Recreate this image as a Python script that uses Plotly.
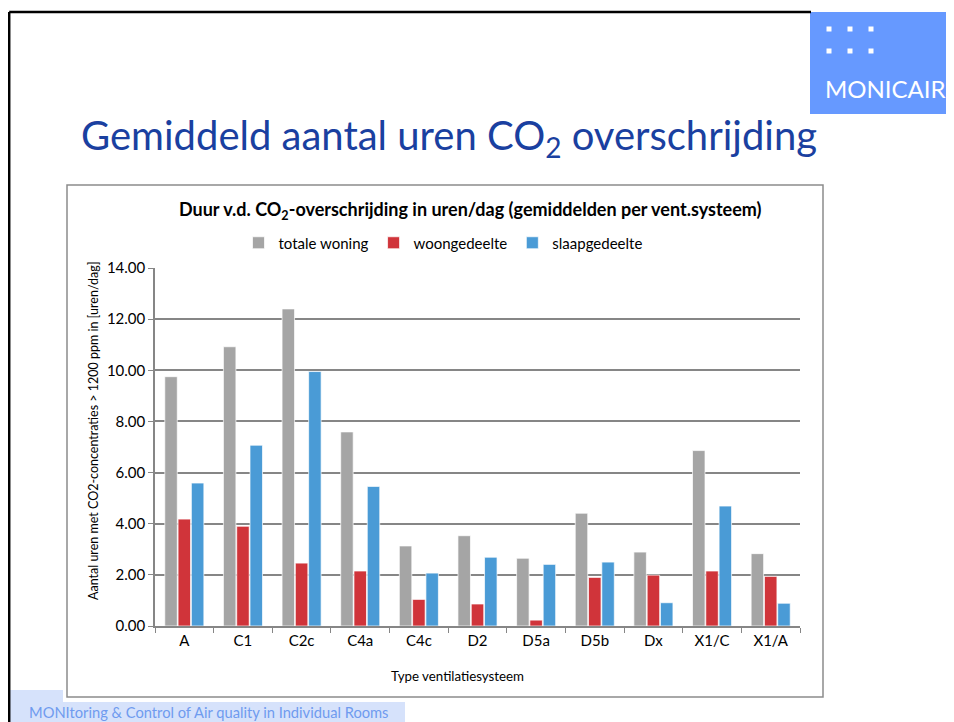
import plotly.graph_objects as go

# The page body has an 8px margin, so the figure is drawn 8px in from the
# top-left corner; coordinates below are given in reference-picture pixels.
OFF = 8
W, H = 954 - OFF, 722 - OFF

categories = ["A", "C1", "C2c", "C4a", "C4c", "D2", "D5a", "D5b", "Dx", "X1/C", "X1/A"]
totale_woning = [9.75, 10.92, 12.40, 7.59, 3.13, 3.53, 2.65, 4.41, 2.89, 6.86, 2.83]
woongedeelte = [4.18, 3.90, 2.46, 2.15, 1.04, 0.86, 0.23, 1.90, 1.99, 2.15, 1.94]
slaapgedeelte = [5.59, 7.07, 9.95, 5.46, 2.07, 2.69, 2.41, 2.50, 0.91, 4.69, 0.89]
y_ticks = [0, 2, 4, 6, 8, 10, 12, 14]
y_ticklabels = ["0.00", "2.00", "4.00", "6.00", "8.00", "10.00", "12.00", "14.00"]

FONT = "Lato"


def px(x):
    return (x - OFF) / W


def py(y):
    return 1 - (y - OFF) / H


fig = go.Figure()
series = [
    ("totale woning", totale_woning, "#A5A5A5"),
    ("woongedeelte", woongedeelte, "#D0343A"),
    ("slaapgedeelte", slaapgedeelte, "#4A9BD6"),
]
for name, vals, col in series:
    fig.add_trace(go.Bar(
        x=categories, y=vals, name=name,
        marker=dict(color=col, line=dict(color="rgba(255,255,255,0.7)", width=1)),
    ))

shapes = []
# slide border
shapes.append(dict(type="line", xref="paper", yref="paper", x0=px(9.2), x1=px(811), y0=py(12), y1=py(12),
                   line=dict(color="black", width=2.5)))
shapes.append(dict(type="line", xref="paper", yref="paper", x0=px(9.2), x1=px(9.2), y0=py(12), y1=py(722),
                   line=dict(color="black", width=2.5)))
# logo box
shapes.append(dict(type="rect", xref="paper", yref="paper", x0=px(810), x1=px(954), y0=py(114), y1=py(12),
                   fillcolor="#6699FF", line=dict(width=0), layer="below"))
for dx in [829, 850, 871]:
    for dy in [29, 51]:
        shapes.append(dict(type="rect", xref="paper", yref="paper", x0=px(dx - 2.5), x1=px(dx + 2.5),
                           y0=py(dy + 2.5), y1=py(dy - 2.5), fillcolor="white", line=dict(width=0)))
# chart box
shapes.append(dict(type="rect", xref="paper", yref="paper", x0=px(67), x1=px(823), y0=py(697), y1=py(185),
                   fillcolor="rgba(0,0,0,0)", line=dict(color="#8C8C8C", width=1.5), layer="below"))
# footer background
shapes.append(dict(type="rect", xref="paper", yref="paper", x0=px(10), x1=px(405), y0=py(722), y1=py(702),
                   fillcolor="#D6E2FB", line=dict(width=0), layer="below"))
shapes.append(dict(type="rect", xref="paper", yref="paper", x0=px(10), x1=px(63), y0=py(702), y1=py(690),
                   fillcolor="#D6E2FB", line=dict(width=0), layer="below"))

annotations = [
    dict(text="Gemiddeld aantal uren CO<sub>2</sub> overschrijding", xref="paper", yref="paper",
         x=px(449), y=py(137), xanchor="center", yanchor="middle", showarrow=False,
         font=dict(family=FONT, size=40, color="#1A40A0")),
    dict(text="MONICAIR", xref="paper", yref="paper", x=px(885), y=py(88), xanchor="center", yanchor="middle",
         showarrow=False, font=dict(family=FONT, size=24, color="white")),
    dict(text="<b>Duur v.d. CO<sub>2</sub>-overschrijding in uren/dag (gemiddelden per vent.systeem)</b>",
         xref="paper", yref="paper", x=px(470), y=py(210), xanchor="center", yanchor="middle", showarrow=False,
         font=dict(family=FONT, size=18, color="black")),
    dict(text="Aantal uren met CO2-concentraties > 1200 ppm in [uren/dag]", xref="paper", yref="paper",
         x=px(93), y=py(431), xanchor="center", yanchor="middle", textangle=-90, showarrow=False,
         font=dict(family=FONT, size=12.5, color="black")),
    dict(text="Type ventilatiesysteem", xref="paper", yref="paper", x=px(457), y=py(676),
         xanchor="center", yanchor="middle", showarrow=False, font=dict(family=FONT, size=13.3, color="black")),
    dict(text="MONItoring & Control of Air quality in Individual Rooms", xref="paper", yref="paper",
         x=px(27), y=py(712), xanchor="left", yanchor="middle", showarrow=False,
         font=dict(family=FONT, size=14.7, color="#6F9BEF")),
]

fig.update_layout(
    width=W, height=H,
    margin=dict(l=0, r=0, t=0, b=0, autoexpand=False),
    paper_bgcolor="white", plot_bgcolor="white",
    barmode="group", bargap=0.32, bargroupgap=0.06,
    font=dict(family=FONT, size=15, color="black"),
    showlegend=True,
    legend=dict(orientation="h", x=px(443), y=py(243), xanchor="center", yanchor="middle",
                font=dict(family=FONT, size=15), itemwidth=30, traceorder="normal",
                bgcolor="rgba(0,0,0,0)"),
    xaxis=dict(domain=[px(155), px(800)], type="category", showgrid=False,
               showline=True, linecolor="#868686", linewidth=1.5,
               ticks="outside", tickson="boundaries", ticklen=5, tickcolor="#868686",
               tickfont=dict(family=FONT, size=15), automargin=False),
    yaxis=dict(domain=[py(626), py(268)], range=[0, 14], tickvals=y_ticks, ticktext=y_ticklabels,
               showgrid=True, gridcolor="#868686", gridwidth=1.5,
               showline=True, linecolor="#868686", linewidth=1.5,
               ticks="outside", ticklen=5, tickcolor="#868686",
               tickfont=dict(family=FONT, size=15), zeroline=False, automargin=False),
    shapes=shapes, annotations=annotations,
)

fig.write_html("out.html")
